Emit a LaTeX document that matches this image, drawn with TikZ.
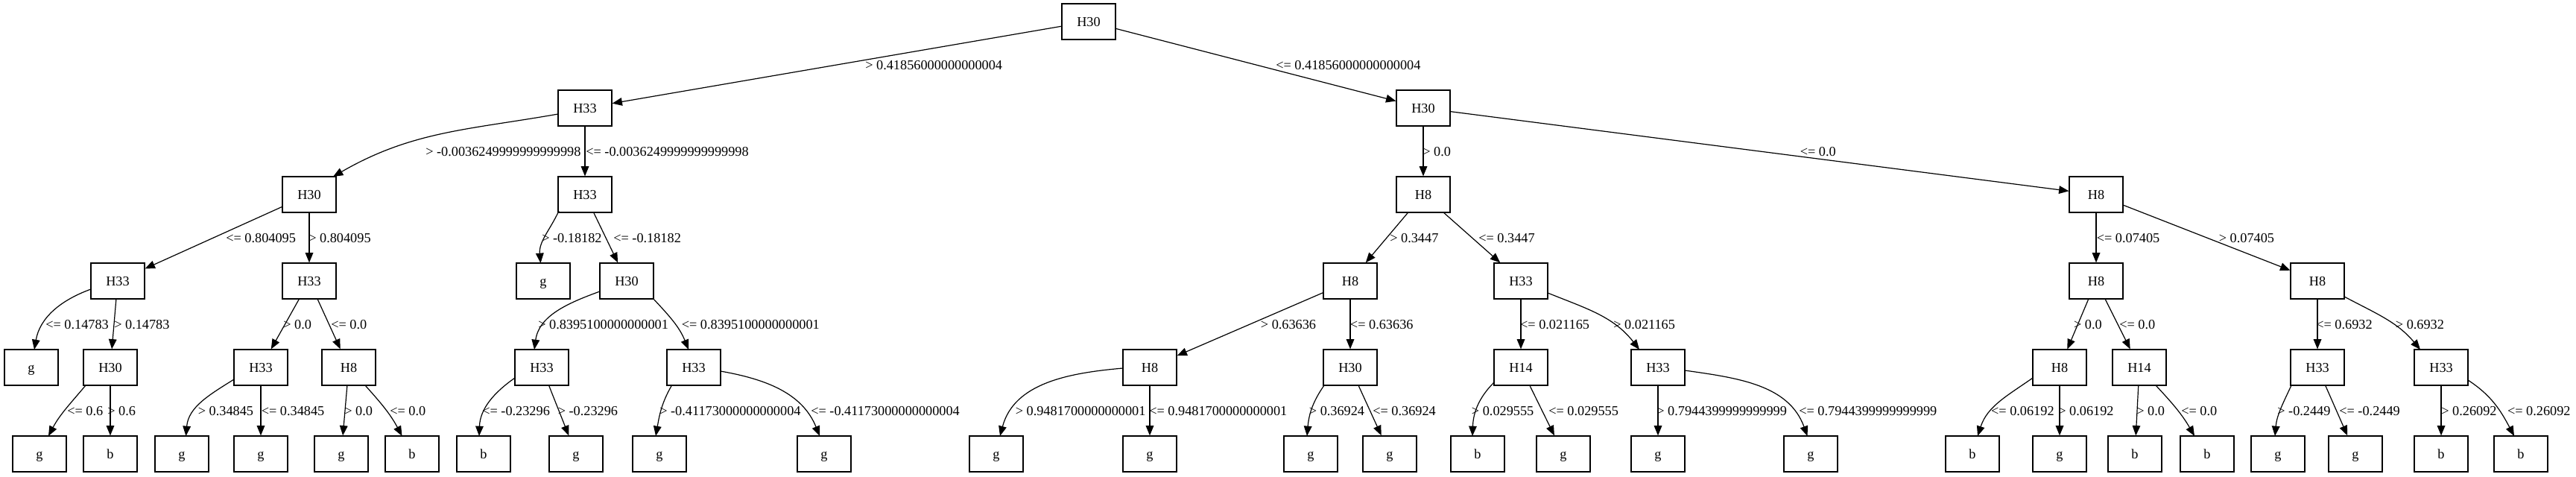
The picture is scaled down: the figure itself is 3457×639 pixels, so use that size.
\documentclass[tikz,border=0pt]{standalone}
\usepackage{fontspec}
\setmainfont{Liberation Serif}
\usetikzlibrary{arrows.meta,calc}
\begin{document}
\begin{tikzpicture}[x=0.75pt,y=0.75pt,
  box/.style={draw,rectangle,line width=0.9pt,minimum width=54pt,minimum height=36pt,inner sep=0pt,font=\fontsize{13.7}{16}\selectfont,text height=9.1pt,text depth=0pt},
  lbl/.style={inner sep=0pt,anchor=base west,font=\fontsize{13.7}{16}\selectfont},
  conn/.style={line width=0.9pt,-{Triangle[length=10pt,width=8pt]}}]
\useasboundingbox (0,0) rectangle (3457,-639);
% level 0
\node[box] (n0) at (1461,-29) {H30};
% level 1
\node[box] (a1) at (785,-145) {H33};
\node[box] (a2) at (1910,-145) {H30};
% level 2
\node[box] (b1) at (415,-261) {H30};
\node[box] (b2) at (785,-261) {H33};
\node[box] (b3) at (1910,-261) {H8};
\node[box] (b4) at (2813,-261) {H8};
% level 3
\node[box] (c1) at (158,-377) {H33};
\node[box] (c2) at (415,-377) {H33};
\node[box] (c3) at (729,-377) {g};
\node[box] (c4) at (841,-377) {H30};
\node[box] (c5) at (1812,-377) {H8};
\node[box] (c6) at (2041,-377) {H33};
\node[box] (c7) at (2813,-377) {H8};
\node[box] (c8) at (3110,-377) {H8};
% level 4
\node[box] (d1) at (42,-493) {g};
\node[box] (d2) at (148,-493) {H30};
\node[box] (d3) at (350,-493) {H33};
\node[box] (d4) at (468,-493) {H8};
\node[box] (d5) at (727,-493) {H33};
\node[box] (d6) at (931,-493) {H33};
\node[box] (d7) at (1543,-493) {H8};
\node[box] (d8) at (1812,-493) {H30};
\node[box] (d9) at (2041,-493) {H14};
\node[box] (d10) at (2225,-493) {H33};
\node[box] (d11) at (2764,-493) {H8};
\node[box] (d12) at (2871,-493) {H14};
\node[box] (d13) at (3110,-493) {H33};
\node[box] (d14) at (3276,-493) {H33};
% level 5
\node[box] (e1) at (53,-609) {g};
\node[box] (e2) at (148,-609) {b};
\node[box] (e3) at (244,-609) {g};
\node[box] (e4) at (350,-609) {g};
\node[box] (e5) at (458,-609) {g};
\node[box] (e6) at (553,-609) {b};
\node[box] (e7) at (649,-609) {b};
\node[box] (e8) at (773,-609) {g};
\node[box] (e9) at (885,-609) {g};
\node[box] (e10) at (1106,-609) {g};
\node[box] (e11) at (1337,-609) {g};
\node[box] (e12) at (1543,-609) {g};
\node[box] (e13) at (1759,-609) {g};
\node[box] (e14) at (1865,-609) {g};
\node[box] (e15) at (1983,-609) {b};
\node[box] (e16) at (2098,-609) {g};
\node[box] (e17) at (2225,-609) {g};
\node[box] (e18) at (2430,-609) {g};
\node[box] (e19) at (2647,-609) {b};
\node[box] (e20) at (2764,-609) {g};
\node[box] (e21) at (2865,-609) {b};
\node[box] (e22) at (2962,-609) {b};
\node[box] (e23) at (3057,-609) {g};
\node[box] (e24) at (3161,-609) {g};
\node[box] (e25) at (3276,-609) {b};
\node[box] (e26) at (3383,-609) {b};
% straight connectors
\foreach \p/\c in {n0/a1,n0/a2,a1/b2,a2/b3,a2/b4,b1/c1,b1/c2,b2/c4,b3/c5,b3/c6,b4/c7,b4/c8,
  c1/d2,c2/d3,c2/d4,c5/d7,c5/d8,c6/d9,c7/d11,c7/d12,c8/d13,
  d2/e2,d3/e4,d4/e5,d5/e8,d7/e12,d8/e14,d9/e16,d10/e17,d11/e20,d12/e21,d13/e24,d14/e25}
  \draw[conn] (\p) -- (\c);
% curved connectors
\draw[conn] ($(a1)+(-36,-8)$) to[out=190,in=30] ($(b1)+(32,24)$);
\draw[conn] ($(b2)+(-35,-22)$) to[out=245,in=95] ($(c3)+(-3.5,24)$);
\draw[conn] ($(c1)+(-36,-11)$) to[out=200,in=80] ($(d1)+(4,24)$);
\draw[conn] ($(c4)+(-36,-14)$) to[out=200,in=82] ($(d5)+(-10,24)$);
\draw[conn] ($(c4)+(35,-23)$) to[out=-47,in=112] ($(d6)+(-7,24)$);
\draw[conn] ($(c6)+(36,-16)$) to[out=-22,in=128] ($(d10)+(-25,24)$);
\draw[conn] ($(c8)+(36,-21)$) to[out=-28,in=130] ($(d14)+(-28,24)$);
\draw[conn] ($(d2)+(-33,-24)$) to[out=230,in=62] ($(e1)+(12,24)$);
\draw[conn] ($(d3)+(-36,-16)$) to[out=212,in=85] ($(e3)+(5.5,24)$);
\draw[conn] ($(d4)+(22,-24)$) to[out=-48,in=118] ($(e6)+(-13.5,24)$);
\draw[conn] ($(d5)+(-36,-14)$) to[out=215,in=88] ($(e7)+(-6,24)$);
\draw[conn] ($(d6)+(-29.5,-24)$) to[out=240,in=80] ($(e9)+(-5,24)$);
\draw[conn] ($(d6)+(36,-5)$) to[out=-10,in=112] ($(e10)+(-6,24)$);
\draw[conn] ($(d7)+(-36,-1)$) to[out=185,in=75] ($(e11)+(5,24)$);
\draw[conn] ($(d8)+(-35,-24)$) to[out=235,in=85] ($(e13)+(-5,24)$);
\draw[conn] ($(d9)+(-36,-20)$) to[out=225,in=88] ($(e15)+(-7,24)$);
\draw[conn] ($(d10)+(36,-4)$) to[out=-8,in=110] ($(e18)+(-4.5,24)$);
\draw[conn] ($(d11)+(-36,-14)$) to[out=215,in=72] ($(e19)+(7,24)$);
\draw[conn] ($(d12)+(22,-24)$) to[out=-47,in=120] ($(e22)+(-17,24)$);
\draw[conn] ($(d13)+(-35,-24)$) to[out=245,in=85] ($(e23)+(-4,24)$);
\draw[conn] ($(d14)+(36,-17)$) to[out=-33,in=118] ($(e26)+(-9,24)$);
% labels level 0-1
\node[lbl] (l1) at (1161,-93) {> 0.41856000000000004};
\node[lbl] (l2) at (1712,-93) {<= 0.41856000000000004};
% labels level 1-2
\node[lbl] (l3) at (571,-209) {> -0.0036249999999999998};
\node[lbl] (l4) at (786,-209) {<= -0.0036249999999999998};
\node[lbl] (l5) at (1909,-209) {> 0.0};
\node[lbl] (l6) at (2415.5,-209) {<= 0.0};
% labels level 2-3
\node[lbl] (l7) at (303,-325) {<= 0.804095};
\node[lbl] (l8) at (414,-325) {> 0.804095};
\node[lbl] (l9) at (727,-325) {> -0.18182};
\node[lbl] (l10) at (823,-325) {<= -0.18182};
\node[lbl] (l11) at (1865,-325) {> 0.3447};
\node[lbl] (l12) at (1984,-325) {<= 0.3447};
\node[lbl] (l13) at (2813.5,-325) {<= 0.07405};
\node[lbl] (l14) at (2977.5,-325) {> 0.07405};
% labels level 3-4
\node[lbl] (l15) at (61,-441) {<= 0.14783};
\node[lbl] (l16) at (153,-441) {> 0.14783};
\node[lbl] (l17) at (380,-441) {> 0.0};
\node[lbl] (l18) at (444,-441) {<= 0.0};
\node[lbl] (l19) at (722,-441) {> 0.8395100000000001};
\node[lbl] (l20) at (914.5,-441) {<= 0.8395100000000001};
\node[lbl] (l21) at (1691.6,-441) {> 0.63636};
\node[lbl] (l22) at (1811.7,-441) {<= 0.63636};
\node[lbl] (l23) at (2039.8,-441) {<= 0.021165};
\node[lbl] (l24) at (2165,-441) {> 0.021165};
\node[lbl] (l25) at (2782.7,-441) {> 0.0};
\node[lbl] (l26) at (2844,-441) {<= 0.0};
\node[lbl] (l27) at (3108,-441) {<= 0.6932};
\node[lbl] (l28) at (3214.6,-441) {> 0.6932};
% labels level 4-5
\node[lbl] (l29) at (90,-557) {<= 0.6};
\node[lbl] (l30) at (144,-557) {> 0.6};
\node[lbl] (l31) at (265.6,-557) {> 0.34845};
\node[lbl] (l32) at (350.5,-557) {<= 0.34845};
\node[lbl] (l33) at (462,-557) {> 0.0};
\node[lbl] (l34) at (523,-557) {<= 0.0};
\node[lbl] (l35) at (647,-557) {<= -0.23296};
\node[lbl] (l36) at (748.5,-557) {> -0.23296};
\node[lbl] (l37) at (885,-557) {> -0.41173000000000004};
\node[lbl] (l38) at (1088,-557) {<= -0.41173000000000004};
\node[lbl] (l39) at (1362.5,-557) {> 0.9481700000000001};
\node[lbl] (l40) at (1542,-557) {<= 0.9481700000000001};
\node[lbl] (l41) at (1756.6,-557) {> 0.36924};
\node[lbl] (l42) at (1842,-557) {<= 0.36924};
\node[lbl] (l43) at (1974.7,-557) {> 0.029555};
\node[lbl] (l44) at (2078,-557) {<= 0.029555};
\node[lbl] (l45) at (2223,-557) {> 0.7944399999999999};
\node[lbl] (l46) at (2414,-557) {<= 0.7944399999999999};
\node[lbl] (l47) at (2671.8,-557) {<= 0.06192};
\node[lbl] (l48) at (2762,-557) {> 0.06192};
\node[lbl] (l49) at (2867,-557) {> 0.0};
\node[lbl] (l50) at (2927,-557) {<= 0.0};
\node[lbl] (l51) at (3056,-557) {> -0.2449};
\node[lbl] (l52) at (3139,-557) {<= -0.2449};
\node[lbl] (l53) at (3276,-557) {> 0.26092};
\node[lbl] (l54) at (3364.7,-557) {<= 0.26092};
\end{tikzpicture}
\end{document}
